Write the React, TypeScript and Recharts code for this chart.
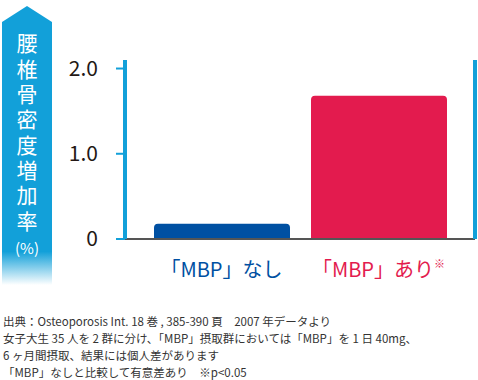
import React from "react";
import { BarChart, Bar, XAxis, YAxis, Cell } from "recharts";

const categories = ["「MBP」なし", "「MBP」あり"];
const values = [0.18, 1.68];
const yTicks = [0, 1, 2];
const yTickLabels = ["0", "1.0", "2.0"];
const bannerTitle = "腰椎骨密度増加率";
const bannerUnit = "(%)";
const notes = [
  "出典：Osteoporosis Int. 18 巻 , 385-390 頁　2007 年データより",
  "女子大生 35 人を 2 群に分け、「MBP」摂取群においては「MBP」を 1 日 40mg、",
  "6 ヶ月間摂取、結果には個人差があります",
  "「MBP」なしと比較して有意差あり　※p<0.05",
];

const FONT = "'Noto Sans CJK JP', 'Noto Sans', sans-serif";
const AXIS_BLUE = "#12a0d9";
const BAR_COLORS = ["#0050a2", "#e31b4e"];

const data = categories.map((c, i) => ({ name: c, value: values[i] }));

function CatTick({ x, y, payload, index }: any) {
  const color = BAR_COLORS[index] ?? "#333";
  return (
    <text x={x} y={y} dy={30} textAnchor="middle" fill={color} fontSize={20} fontFamily={FONT}>
      {payload.value}
      {index === 1 && (
        <tspan fontSize={11} dy={-9}>※</tspan>
      )}
    </text>
  );
}

function Banner() {
  return (
    <div style={{ position: "absolute", left: 0, top: 0, width: 56, height: 285 }}>
      <svg width={56} height={285} style={{ position: "absolute", left: 0, top: 0 }}>
        <defs>
          <linearGradient id="fade" x1="0" y1="0" x2="0" y2="1">
            <stop offset="0.88" stopColor={AXIS_BLUE} stopOpacity={1} />
            <stop offset="1" stopColor={AXIS_BLUE} stopOpacity={0} />
          </linearGradient>
        </defs>
        <polygon points="27,6 52,22 52,285 2,285 2,22" fill="url(#fade)" />
      </svg>
      <div
        style={{
          position: "absolute",
          left: 2,
          width: 50,
          top: 33,
          writingMode: "vertical-rl",
          color: "#fff",
          fontFamily: FONT,
          fontSize: 21,
          lineHeight: "50px",
          letterSpacing: "4.3px",
        }}
      >
        {bannerTitle}
      </div>
      <div
        style={{
          position: "absolute",
          left: 2,
          width: 50,
          top: 238,
          textAlign: "center",
          color: "#fff",
          fontFamily: FONT,
          fontSize: 15,
          lineHeight: "20px",
        }}
      >
        {bannerUnit}
      </div>
    </div>
  );
}

export default function App() {
  return (
    <div style={{ position: "absolute", left: 0, top: 0, width: 478, height: 380, background: "#fff", overflow: "hidden" }}>
      <Banner />
      <div style={{ position: "absolute", left: 0, top: 0 }}>
        <BarChart width={478} height={300} data={data} margin={{ top: 60, right: 0, left: 0, bottom: 16 }}>
          <XAxis
            dataKey="name"
            axisLine={{ stroke: "#555", strokeWidth: 2 }}
            tickLine={false}
            tick={<CatTick />}
            padding={{ left: 18, right: 18 }}
            height={45}
            interval={0}
          />
          <YAxis
            yAxisId="l"
            width={125}
            domain={[0, 2.1]}
            ticks={yTicks}
            tickFormatter={(v: number) => yTickLabels[yTicks.indexOf(v)]}
            axisLine={{ stroke: AXIS_BLUE, strokeWidth: 4 }}
            tickLine={{ stroke: AXIS_BLUE, strokeWidth: 2 }}
            tickSize={9}
            tick={{ fontSize: 21, fill: "#231815", fontFamily: FONT }}
            tickMargin={18}
          />
          <YAxis
            yAxisId="r"
            orientation="right"
            width={3}
            domain={[0, 2.1]}
            tick={false}
            tickLine={false}
            axisLine={{ stroke: AXIS_BLUE, strokeWidth: 4 }}
          />
          <Bar yAxisId="l" dataKey="value" barSize={136} radius={[4, 4, 0, 0]} isAnimationActive={false}>
            {data.map((d, i) => (
              <Cell key={d.name} fill={BAR_COLORS[i]} />
            ))}
          </Bar>
        </BarChart>
      </div>
      <div
        style={{
          position: "absolute",
          left: 3,
          top: 313,
          fontFamily: FONT,
          fontSize: 11.5,
          lineHeight: "17px",
          color: "#333",
          whiteSpace: "nowrap",
        }}
      >
        {notes.map((n, i) => (
          <div key={i}>{n}</div>
        ))}
      </div>
    </div>
  );
}
